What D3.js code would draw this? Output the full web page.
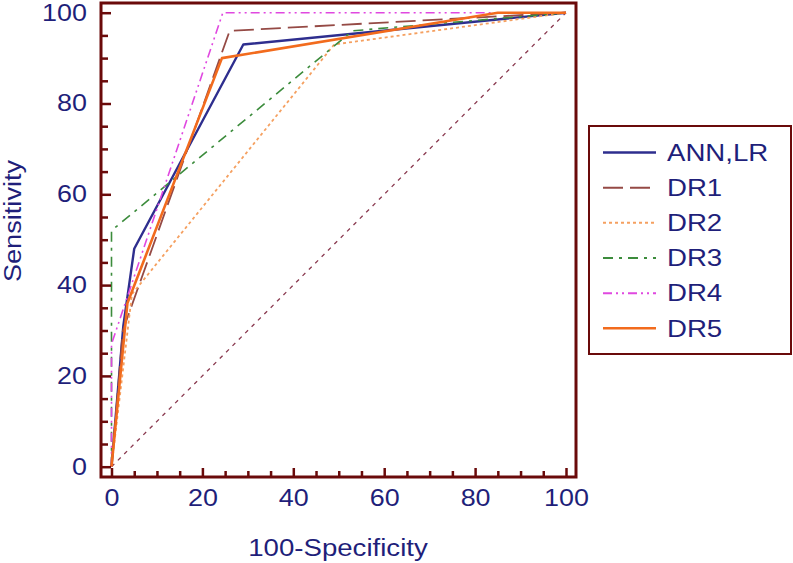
<!DOCTYPE html>
<html><head><meta charset="utf-8">
<script src="https://cdn.jsdelivr.net/npm/d3@7"></script>
<style>body{margin:0;background:#fff}svg{display:block}text{font-family:"Liberation Sans",Arial,sans-serif}</style>
</head><body>
<svg id="c" width="793" height="563"></svg>
<script>
// ---- data ----
const seriesNames = ["ANN,LR", "DR1", "DR2", "DR3", "DR4", "DR5"];
const annX = [0, 2.6, 5, 29, 100];      const annY = [0, 31, 48, 93, 100];
const dr1X = [0, 2.5, 26, 100];         const dr1Y = [0, 30, 96, 100];
const dr2X = [0, 4.5, 49, 100];         const dr2Y = [0, 38, 93, 100];
const dr3X = [0, 0, 53, 100];           const dr3Y = [0, 52, 96, 100];
const dr4X = [0, 0, 24.5, 100];         const dr4Y = [0, 27, 100, 100];
const dr5X = [0, 3.5, 24.3, 85, 100];   const dr5Y = [0, 36, 90, 100, 100];
const diagX = [0, 100];                 const diagY = [0, 100];
const xTicks = [0, 20, 40, 60, 80, 100];
const yTicks = [0, 20, 40, 60, 80, 100];
const xLabel = "100-Specificity";
const yLabel = "Sensitivity";

// ---- styles ----
const textColor = "#1f1f7a";
const frameColor = "#6a0a0a";
const styles = [
  {color:"#2e2e8e", width:2.4, dash:null},
  {color:"#954a45", width:1.8, dash:"20,7"},
  {color:"#f5a060", width:1.8, dash:"3,3"},
  {color:"#3c8c3c", width:1.6, dash:"10,6,3,6"},
  {color:"#e048e0", width:1.6, dash:"9,4,2,4,2,4"},
  {color:"#f26b1d", width:2.6, dash:null}
];
const seriesData = [[annX,annY],[dr1X,dr1Y],[dr2X,dr2Y],[dr3X,dr3Y],[dr4X,dr4Y],[dr5X,dr5Y]];

const svg = d3.select("#c");
const frame = {l:101, r:576, t:3, b:477};
const x = d3.scaleLinear().domain([0,100]).range([111.5, 566]);
const y = d3.scaleLinear().domain([0,100]).range([466.7, 12.7]);

function stretch(sel, f){
  sel.each(function(){
    const l = this.getComputedTextLength();
    this.setAttribute("textLength", l*f);
    this.setAttribute("lengthAdjust","spacingAndGlyphs");
  });
}

const line = d3.line().x(d=>x(d[0])).y(d=>y(d[1]));
const zip = (a,b)=>a.map((v,i)=>[v,b[i]]);

// diagonal
svg.append("path").attr("d", line(zip(diagX,diagY)))
  .attr("fill","none").attr("stroke","#8a3a50").attr("stroke-width",1.3).attr("stroke-dasharray","4,5");

// series
seriesData.forEach((s,i)=>{
  const st = styles[i];
  svg.append("path").attr("d", line(zip(s[0], s[1])))
    .attr("fill","none").attr("stroke",st.color).attr("stroke-width",st.width)
    .attr("stroke-dasharray", st.dash).attr("stroke-linejoin","round");
});

// frame
svg.append("rect").attr("x",frame.l).attr("y",frame.t)
  .attr("width",frame.r-frame.l).attr("height",frame.b-frame.t)
  .attr("fill","none").attr("stroke",frameColor).attr("stroke-width",3);

// axes
const yAxis = d3.axisLeft(y).tickValues(d3.range(0,101,5)).tickSize(-10).tickPadding(14)
  .tickFormat(d => yTicks.includes(d) ? d : "");
const gy = svg.append("g").attr("transform",`translate(${frame.l},0)`).call(yAxis);
const xAxis = d3.axisBottom(x).tickValues(d3.range(0,101,5)).tickSize(-9).tickPadding(13)
  .tickFormat(d => xTicks.includes(d) ? d : "");
const gx = svg.append("g").attr("transform",`translate(0,${frame.b})`).call(xAxis);
[gx,gy].forEach(g=>{
  g.select(".domain").remove();
  g.selectAll(".tick line").attr("stroke",frameColor).attr("stroke-width",2.5);
  g.selectAll(".tick text").attr("fill",textColor).style("font-size","23px")
   .style("font-family",'"Liberation Sans",Arial,sans-serif');
});
gy.selectAll(".tick").filter(d=>d%20!==0).select("line").attr("x2",7);
gx.selectAll(".tick").filter(d=>d%20!==0).select("line").attr("y2",-6);
stretch(gx.selectAll(".tick text"), 1.17);
stretch(gy.selectAll(".tick text"), 1.17);

// axis titles
const xt = svg.append("text").attr("x",338).attr("y",556).attr("text-anchor","middle")
  .attr("fill",textColor).style("font-size","23px").text(xLabel);
stretch(xt, 1.2);
const yt = svg.append("text").attr("transform","translate(21,221) rotate(-90)").attr("text-anchor","middle")
  .attr("fill",textColor).style("font-size","23px").text(yLabel);
stretch(yt, 1.18);

// legend
svg.append("rect").attr("x",589).attr("y",126).attr("width",202).attr("height",228)
  .attr("fill","#fff").attr("stroke",frameColor).attr("stroke-width",2);
const rowY = d3.scaleLinear().domain([0,5]).range([152.5, 328.3]);
seriesNames.forEach((n,i)=>{
  const st = styles[i];
  const yy = rowY(i);
  svg.append("line").attr("x1",603).attr("x2",656).attr("y1",yy).attr("y2",yy)
    .attr("stroke",st.color).attr("stroke-width",Math.max(st.width,2)).attr("stroke-dasharray",st.dash);
  const t = svg.append("text").attr("x",667).attr("y",yy+8.3).attr("fill",textColor)
    .style("font-size","23px").text(n);
  stretch(t, 1.2);
});
</script>
</body></html>
